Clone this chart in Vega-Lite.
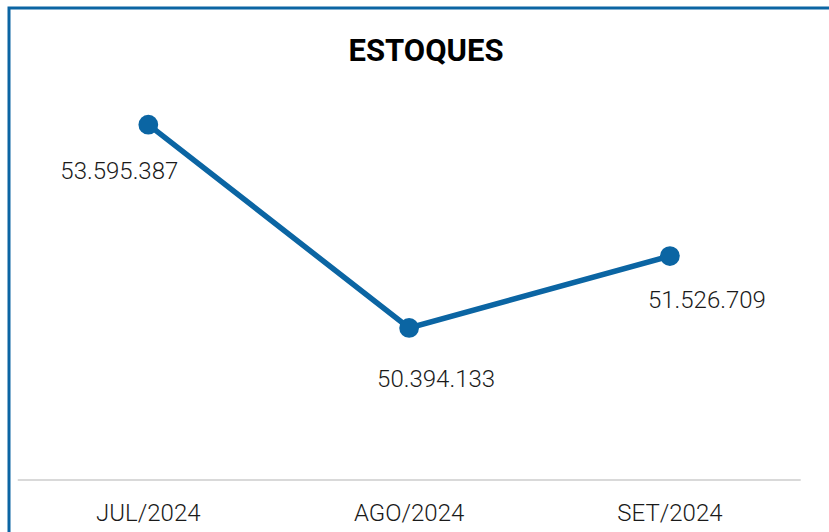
{
  "$schema": "https://vega.github.io/schema/vega-lite/v6.json",
  "autosize": {"type": "none"},
  "width": 820,
  "height": 524,
  "padding": {"left": 9, "top": 8, "right": 0, "bottom": 0},
  "background": "white",
  "config": {
    "font": "Roboto",
    "view": {"stroke": "#0B65A3", "strokeWidth": 3, "strokeDash": [820, 1344, 524]}
  },
  "title": {
    "text": "ESTOQUES",
    "fontSize": 31,
    "fontWeight": "bold",
    "color": "#000000",
    "anchor": "middle",
    "frame": "group",
    "offset": 0,
    "baseline": "alphabetic",
    "dy": 84,
    "dx": 7
  },
  "data": {
    "values": [
      {"mes": "JUL/2024", "estoque": 53595387, "rotulo": "53.595.387"},
      {"mes": "AGO/2024", "estoque": 50394133, "rotulo": "50.394.133"},
      {"mes": "SET/2024", "estoque": 51526709, "rotulo": "51.526.709"}
    ]
  },
  "encoding": {
    "x": {
      "field": "mes",
      "type": "nominal",
      "sort": null,
      "bandPosition": 0.5,
      "scale": {"type": "band", "domain": ["JUL/2024", "AGO/2024", "SET/2024"], "paddingInner": 0, "paddingOuter": 0.0721, "align": 0.237},
      "axis": {
        "title": null,
        "orient": "bottom",
        "offset": -52,
        "domain": false,
        "ticks": false,
        "tickSize": 0,
        "grid": false,
        "labelAngle": 0,
        "labelFont": "Roboto",
        "labelFontSize": 24,
        "labelFontWeight": 300,
        "labelColor": "#1a1a1a",
        "labelBaseline": "alphabetic",
        "labelPadding": 40
      }
    }
  },
  "layer": [
    {
      "mark": {"type": "rule", "color": "#d9d9d9", "strokeWidth": 2},
      "encoding": {
        "x": {"datum": "JUL/2024", "type": "nominal", "bandPosition": 0},
        "x2": {"datum": "SET/2024", "bandPosition": 1},
        "y": {"datum": 48000000, "type": "quantitative", "scale": {"domain": [47181193, 55432251], "zero": false, "nice": false}, "axis": null}
      }
    },
    {
      "mark": {"type": "line", "color": "#0B65A3", "strokeWidth": 5.5},
      "encoding": {
        "y": {"field": "estoque", "type": "quantitative", "axis": null}
      }
    },
    {
      "mark": {"type": "point", "filled": true, "opacity": 1, "color": "#0B65A3", "size": 390},
      "encoding": {
        "y": {"field": "estoque", "type": "quantitative", "axis": null}
      }
    },
    {
      "transform": [{"filter": "datum.mes === 'JUL/2024'"}],
      "mark": {"type": "text", "fontSize": 24, "fontWeight": 300, "color": "#1a1a1a", "baseline": "alphabetic", "align": "center", "dx": -29, "dy": 54},
      "encoding": {
        "y": {"field": "estoque", "type": "quantitative", "axis": null},
        "text": {"field": "rotulo"}
      }
    },
    {
      "transform": [{"filter": "datum.mes === 'AGO/2024'"}],
      "mark": {"type": "text", "fontSize": 24, "fontWeight": 300, "color": "#1a1a1a", "baseline": "alphabetic", "align": "center", "dx": 27, "dy": 59},
      "encoding": {
        "y": {"field": "estoque", "type": "quantitative", "axis": null},
        "text": {"field": "rotulo"}
      }
    },
    {
      "transform": [{"filter": "datum.mes === 'SET/2024'"}],
      "mark": {"type": "text", "fontSize": 24, "fontWeight": 300, "color": "#1a1a1a", "baseline": "alphabetic", "align": "center", "dx": 37, "dy": 52},
      "encoding": {
        "y": {"field": "estoque", "type": "quantitative", "axis": null},
        "text": {"field": "rotulo"}
      }
    }
  ]
}
